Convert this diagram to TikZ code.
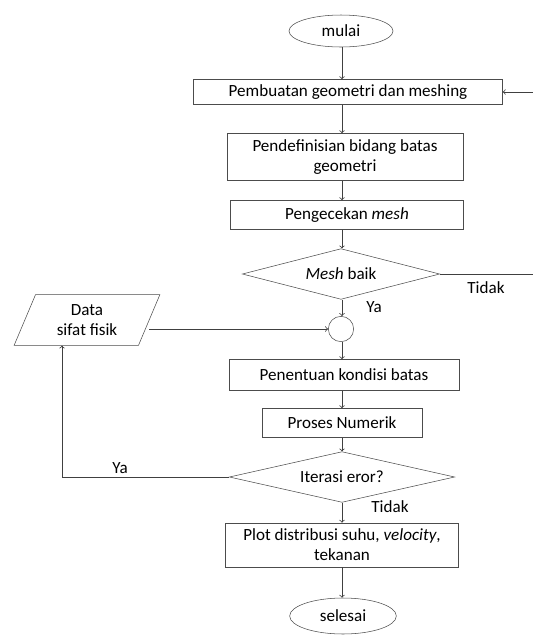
\documentclass[tikz,border=0pt]{standalone}
\usepackage{fontspec}
\setmainfont{Carlito}
\usetikzlibrary{shapes.geometric}

\begin{document}
\begin{tikzpicture}
[x=0.75pt,y=-0.75pt,
  flowLine/.style={-,draw=black!75,semithick},%
  procBox/.style={draw=black!70,rectangle,align=center,inner sep=1pt},%
  termEllipse/.style={draw=black!70,ellipse,inner sep=0pt},%
  decDiamond/.style={draw=black!70,diamond,aspect=4,inner sep=0pt},%
  dataSlant/.style={draw=black!70,trapezium,trapezium left angle=68,
    trapezium right angle=112,trapezium stretches=true,align=center,inner sep=0pt},%
  font=\fontsize{12.8}{15}\selectfont]
\useasboundingbox (0,0) rectangle (533,637);
%% process boxes
\foreach \nodename/\x/\y/\w/\h/\txt in {
  pembuatan/348/92/309/25/{Pembuatan geometri dan meshing},
  pendefinisian/345/157/236/47/{Pendefinisian bidang batas\\geometri},
  pengecekan/347/215/233/29/{Pengecekan \textit{mesh}},
  penentuan/344/375/230/31/{Penentuan kondisi batas},
  proses/342/423/160/29/{Proses Numerik},
  plot/342/545/233/44/{Plot distribusi suhu, \textit{velocity},\\tekanan}}
{
  \node (\nodename) at (\x,\y) [procBox,minimum width=\w*0.75pt,minimum height=\h*0.75pt] {\txt};
}
%% start, end, decisions
\node (mulai) at (341,31) [termEllipse,minimum width=78pt,minimum height=24pt] {mulai};
\node (selesai) at (343,616) [termEllipse,minimum width=80pt,minimum height=27pt] {selesai};
\node (meshBaik) at (341,274) [decDiamond,minimum width=148pt,minimum height=38pt] {\textit{Mesh} baik};
\node (iterasi) at (342,477) [decDiamond,minimum width=169pt,minimum height=38pt] {Iterasi eror?};
\node (join) at (341,329) [draw=black!70,circle,minimum size=19pt,inner sep=0pt] {};
\node (data) at (87,320) [dataSlant,minimum width=110pt,minimum height=38pt] {Data\\sifat fisik};
%% free ends
\coordinate (spine) at (342,0);
\coordinate (tidakEnd) at (533,274);
\coordinate (backIn) at (533,92);
\coordinate (yaTurn) at (62,477);
%% edges or lines
\foreach \startnode/\endnode in {
  mulai/pembuatan, pembuatan/pendefinisian, pendefinisian/pengecekan,
  pengecekan/meshBaik, meshBaik/join, join/penentuan, penentuan/proses,
  proses/iterasi, iterasi/plot, plot/selesai}
{
  \draw[flowLine,->] (\startnode.south -| spine) -- (\endnode.north -| spine);
};
\draw[flowLine] (meshBaik.east) -- (tidakEnd);
\draw[flowLine,->] (backIn) -- (pembuatan.east);
\draw[flowLine,->] (data.east |- join) -- (join);
\draw[flowLine,->] (iterasi.west) -- (yaTurn) -- (yaTurn |- data.south);
%% labels
\node (yaMesh) at (374,307) {Ya};
\node (tidakMesh) at (486,288) {Tidak};
\node (yaIter) at (120,468) {Ya};
\node (tidakIter) at (390,507) {Tidak};
\end{tikzpicture}
\end{document}
